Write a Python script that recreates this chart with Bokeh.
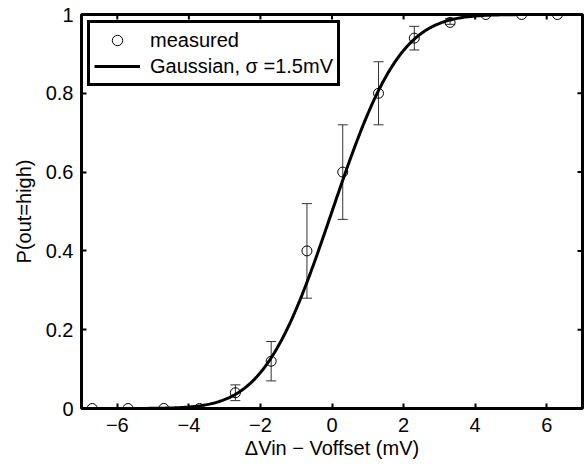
import math
import numpy as np
from bokeh.plotting import figure
from bokeh.models import (ColumnDataSource, Range1d, FixedTicker,
                          Whisker, TeeHead, Legend, LegendItem)
from bokeh.embed import file_html
from bokeh.resources import INLINE

# ---- data ----
meas_x = [-6.7, -5.7, -4.7, -3.7, -2.7, -1.7, -0.7, 0.3, 1.3, 2.3, 3.3, 4.3, 5.3, 6.3]
meas_p = [0.0, 0.0, 0.0, 0.0, 0.04, 0.12, 0.40, 0.60, 0.80, 0.94, 0.98, 1.0, 1.0, 1.0]

err_x = [-2.7, -1.7, -0.7, 0.3, 1.3, 2.3, 3.3]
err_lo = [0.02, 0.07, 0.28, 0.48, 0.72, 0.91, 0.975]
err_hi = [0.06, 0.17, 0.52, 0.72, 0.88, 0.97, 0.99]

SIGMA = 1.5  # mV, Gaussian model from the legend

x_ticks = [-6, -4, -2, 0, 2, 4, 6]
x_tick_labels = ["−6", "−4", "−2", "0", "2", "4", "6"]
y_ticks = [0, 0.2, 0.4, 0.6, 0.8, 1.0]
y_tick_labels = ["0", "0.2", "0.4", "0.6", "0.8", "1"]

X_MIN, X_MAX = -7, 7
Y_MIN, Y_MAX = 0, 1

# model curve: cumulative Gaussian with sigma = SIGMA
curve_x = np.linspace(X_MIN, X_MAX, 401)
curve_p = [0.5 * (1 + math.erf(v / (SIGMA * math.sqrt(2)))) for v in curve_x]

FONT = "Liberation Sans"

p = figure(width=587, height=464, output_backend="svg", toolbar_location=None,
           x_range=Range1d(X_MIN, X_MAX), y_range=Range1d(Y_MIN, Y_MAX),
           min_border_left=81, min_border_right=5, min_border_top=14,
           min_border_bottom=56)
p.background_fill_color = "white"
p.border_fill_color = "white"
p.grid.visible = False
p.outline_line_color = "black"
p.outline_line_width = 3
p.outline_line_alpha = 1

for ax, ticks, labels in ((p.xaxis[0], x_ticks, x_tick_labels), (p.yaxis[0], y_ticks, y_tick_labels)):
    ax.ticker = FixedTicker(ticks=ticks)
    ax.major_label_overrides = {t: l for t, l in zip(ticks, labels)}
    ax.axis_line_color = None
    ax.major_tick_in = 5
    ax.major_tick_out = 0
    ax.major_tick_line_width = 2
    ax.minor_tick_line_color = None
    ax.major_label_text_font = FONT
    ax.major_label_text_font_size = "20px"
    ax.major_label_text_color = "black"
    ax.axis_label_text_font = FONT
    ax.axis_label_text_font_size = "20px"
    ax.axis_label_text_font_style = "normal"
    ax.axis_label_text_color = "black"

p.xaxis[0].axis_label = "ΔVin − Voffset (mV)"
p.xaxis[0].major_label_standoff = 9
p.xaxis[0].axis_label_standoff = 2
p.yaxis[0].axis_label = "P(out=high)"
p.yaxis[0].major_label_standoff = 8
p.yaxis[0].axis_label_standoff = 8

# mirrored ticks on the top and right edges (dash markers centred on the
# frame edge; the outer half is clipped by the frame)
p.scatter(x=x_ticks, y=[Y_MAX] * len(x_ticks), marker="dash", angle=math.pi / 2,
          size=10, line_color="black", line_width=2)
p.scatter(x=[X_MAX] * len(y_ticks), y=y_ticks, marker="dash",
          size=10, line_color="black", line_width=2)

# error bars
esrc = ColumnDataSource(dict(x=err_x, lo=err_lo, hi=err_hi))
wh = Whisker(source=esrc, base="x", lower="lo", upper="hi", dimension="height",
             line_color="#333333", line_width=1,
             lower_head=TeeHead(size=10, line_color="#333333", line_width=1),
             upper_head=TeeHead(size=10, line_color="#333333", line_width=1))
p.add_layout(wh)

msrc = ColumnDataSource(dict(x=meas_x, y=meas_p))
r_meas = p.scatter("x", "y", source=msrc, marker="circle", size=10,
                   fill_color=None, line_color="black", line_width=1)

csrc = ColumnDataSource(dict(x=curve_x, y=curve_p))
r_curve = p.line("x", "y", source=csrc, line_color="black", line_width=3)

legend = Legend(items=[LegendItem(label="measured", renderers=[r_meas]),
                       LegendItem(label="Gaussian, σ =1.5mV", renderers=[r_curve])],
                location="top_left")
legend.margin = 6
legend.padding = 4
legend.spacing = 0
legend.label_height = 26
legend.glyph_height = 26
legend.glyph_width = 46
legend.label_standoff = 10
legend.label_text_font = FONT
legend.label_text_font_size = "20px"
legend.label_text_color = "black"
legend.border_line_color = "black"
legend.border_line_width = 3
legend.border_line_alpha = 1
legend.background_fill_color = "white"
legend.background_fill_alpha = 1
p.add_layout(legend, "center")

open("out.html", "w").write(file_html(p, INLINE))
